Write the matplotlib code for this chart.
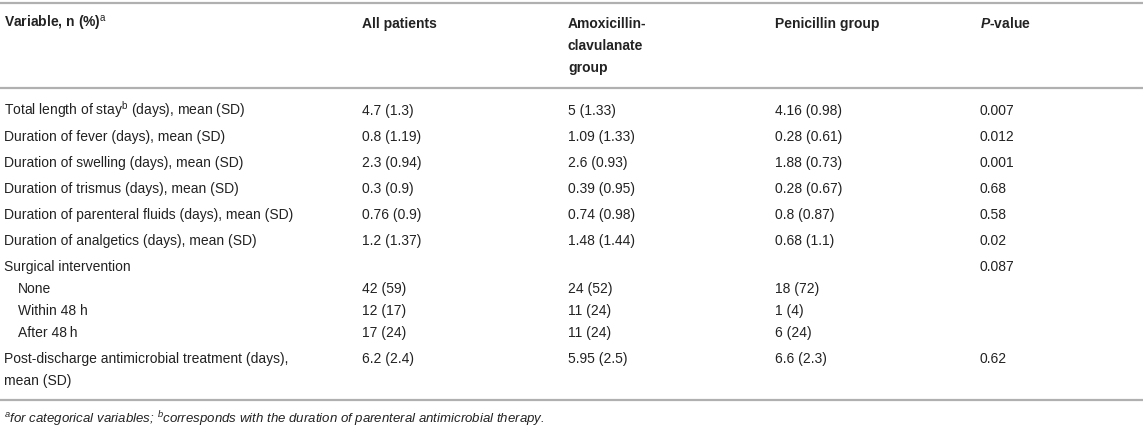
import matplotlib
matplotlib.use("Agg")
import matplotlib.pyplot as plt

plt.rcParams['font.family'] = ['Liberation Sans', 'DejaVu Sans']
plt.rcParams['mathtext.fontset'] = 'custom'
plt.rcParams['mathtext.rm'] = 'Liberation Sans'
plt.rcParams['mathtext.it'] = 'Liberation Sans:italic'
plt.rcParams['mathtext.bf'] = 'Liberation Sans:bold'
plt.rcParams['mathtext.bfit'] = 'Liberation Sans:italic:bold'

# table content
headers = [["Variable, n (%)$^{\\mathrm{a}}$"],
           ["All patients"],
           ["Amoxicillin-", "clavulanate", "group"],
           ["Penicillin group"],
           ["$\\mathbfit{P}$-value"]]

# each row: list of label lines (sub-items are indented)
row_labels = [["Total length of stay$^{\\mathrm{b}}$ (days), mean (SD)"],
              ["Duration of fever (days), mean (SD)"],
              ["Duration of swelling (days), mean (SD)"],
              ["Duration of trismus (days), mean (SD)"],
              ["Duration of parenteral fluids (days), mean (SD)"],
              ["Duration of analgetics (days), mean (SD)"],
              ["Surgical intervention", "None", "Within 48 h", "After 48\u2009h"],
              ["Post-discharge antimicrobial treatment (days),", "mean (SD)"]]
indented = [[False], [False], [False], [False], [False], [False],
            [False, True, True, True], [False, False]]
all_patients = [["4.7 (1.3)"], ["0.8 (1.19)"], ["2.3 (0.94)"], ["0.3 (0.9)"],
                ["0.76 (0.9)"], ["1.2 (1.37)"], ["", "42 (59)", "12 (17)", "17 (24)"],
                ["6.2 (2.4)"]]
amox_clav = [["5 (1.33)"], ["1.09 (1.33)"], ["2.6 (0.93)"], ["0.39 (0.95)"],
             ["0.74 (0.98)"], ["1.48 (1.44)"], ["", "24 (52)", "11 (24)", "11 (24)"],
             ["5.95 (2.5)"]]
penicillin = [["4.16 (0.98)"], ["0.28 (0.61)"], ["1.88 (0.73)"], ["0.28 (0.67)"],
              ["0.8 (0.87)"], ["0.68 (1.1)"], ["", "18 (72)", "1 (4)", "6 (24)"],
              ["6.6 (2.3)"]]
p_values = [["0.007"], ["0.012"], ["0.001"], ["0.68"], ["0.58"], ["0.02"],
            ["0.087"], ["0.62"]]
footnote = ("$^{\\mathit{a}}$for categorical variables; $^{\\mathit{b}}$corresponds "
            "with the duration of parenteral antimicrobial therapy.")

W, H = 1143, 430
fig = plt.figure(figsize=(W / 100, H / 100), dpi=100)
ax = fig.add_axes([0, 0, 1, 1])
ax.set_xlim(0, W)
ax.set_ylim(H, 0)
ax.axis('off')

col_x = [4, 362, 568, 775, 980]
indent = 14
fs = 10
txt_color = '#222222'
rule = '#b0b0b0'
line_h = 22
row_gap = 26
base = 5  # baseline sits this far below the line centre

ax.axhline(3, color=rule, lw=1.6)
ax.axhline(88, color=rule, lw=1.6)
ax.axhline(400, color=rule, lw=1.6)

for cx, lines in zip(col_x, headers):
    for k, t in enumerate(lines):
        ax.text(cx, 23 + k * line_h + base, t, fontsize=fs, fontweight='bold',
                color=txt_color, va='baseline', ha='left')

columns = [row_labels, all_patients, amox_clav, penicillin, p_values]
y = 110
for r in range(len(row_labels)):
    n = len(row_labels[r])
    for c, (cx, col) in enumerate(zip(col_x, columns)):
        for k, t in enumerate(col[r]):
            x = cx
            if c == 0 and indented[r][k]:
                x += indent
            ax.text(x, y + k * line_h + base, t, fontsize=fs, color=txt_color,
                    va='baseline', ha='left')
    y += (n - 1) * line_h + row_gap

ax.text(col_x[0], 418 + base, footnote, fontsize=9.5, style='italic',
        color=txt_color, va='baseline', ha='left')

fig.savefig("out.png", dpi=100, facecolor='white')
